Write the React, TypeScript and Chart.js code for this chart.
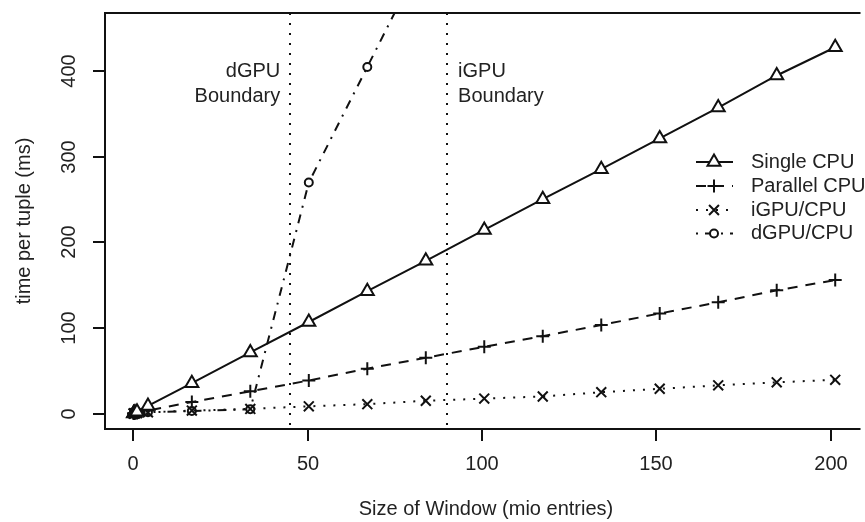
import React, { useEffect, useRef } from 'react';
import { Chart, registerables } from 'chart.js';

Chart.register(...registerables);

// Window sizes (mio entries)
const windowSizes = [0.0625, 0.125, 0.25, 0.5, 1.05, 4.19, 16.78, 33.55, 50.33, 67.11, 83.89, 100.66, 117.44, 134.22, 150.99, 167.77, 184.55, 201.33];

// time per tuple (ms)
const singleCpu = [0.2, 0.3, 0.6, 1.1, 2.2, 9, 35.5, 71.5, 107, 143, 178.5, 214.5, 250.5, 285.5, 321.5, 357.5, 395, 428];
const parallelCpu = [0.1, 0.1, 0.2, 0.4, 0.8, 3.5, 13.5, 26, 38.7, 52.5, 65.3, 78, 90.5, 103.5, 117, 130, 144, 156];
const igpuCpu = [0.1, 0.1, 0.2, 0.3, 0.5, 1.5, 3.5, 5.5, 8.5, 11, 15, 17.5, 20, 25, 29, 33, 36.5, 39.5];
const dgpuCpu = [0.1, 0.1, 0.2, 0.3, 0.5, 1.5, 3, 5, 270, 405, 540];

const seriesNames = ['Single CPU', 'Parallel CPU', 'iGPU/CPU', 'dGPU/CPU'];

const xTicks = [0, 50, 100, 150, 200];
const yTicks = [0, 100, 200, 300, 400];

const boundaryValues = [45, 90];
const boundaryLabels = [['dGPU', 'Boundary'], ['iGPU', 'Boundary']];

const FONT = '"Liberation Sans", Arial, Helvetica, sans-serif';
const TEXT = '#222';
const INK = '#111';

const dashes: number[][] = [[], [10, 8], [2, 8], [2, 7, 9, 7]];
const markers = ['triangle', 'cross', 'crossRot', 'circle'];
const radii = [7.5, 6.5, 7, 4];

function drawMarker(ctx: CanvasRenderingContext2D, style: string, x: number, y: number, r: number) {
  ctx.save();
  ctx.setLineDash([]);
  ctx.lineWidth = 2;
  ctx.strokeStyle = INK;
  ctx.fillStyle = '#fff';
  ctx.beginPath();
  if (style === 'triangle') {
    const s = Math.sin((2 * Math.PI) / 3) * r;
    ctx.moveTo(x, y - r);
    ctx.lineTo(x + s, y + r / 2);
    ctx.lineTo(x - s, y + r / 2);
    ctx.closePath();
    ctx.fill();
    ctx.stroke();
  } else if (style === 'cross') {
    ctx.moveTo(x - r, y);
    ctx.lineTo(x + r, y);
    ctx.moveTo(x, y - r);
    ctx.lineTo(x, y + r);
    ctx.stroke();
  } else if (style === 'crossRot') {
    const d = r * Math.SQRT1_2;
    ctx.moveTo(x - d, y - d);
    ctx.lineTo(x + d, y + d);
    ctx.moveTo(x - d, y + d);
    ctx.lineTo(x + d, y - d);
    ctx.stroke();
  } else {
    ctx.arc(x, y, r, 0, Math.PI * 2);
    ctx.fill();
    ctx.stroke();
  }
  ctx.restore();
}

const rPlot = {
  id: 'rPlot',
  beforeDatasetsDraw(chart: any) {
    const { ctx, chartArea: a, scales } = chart;
    const x = scales.x;
    const y = scales.y;
    ctx.save();
    // boundary lines
    ctx.strokeStyle = INK;
    ctx.lineWidth = 2;
    ctx.setLineDash([2, 8]);
    boundaryValues.forEach((b) => {
      const px = Math.round(x.getPixelForValue(b));
      ctx.beginPath();
      ctx.moveTo(px, a.top);
      ctx.lineTo(px, a.bottom);
      ctx.stroke();
    });
    ctx.setLineDash([]);
    ctx.fillStyle = TEXT;
    ctx.font = `20px ${FONT}`;
    ctx.textBaseline = 'middle';
    boundaryLabels.forEach((lines, i) => {
      const px = x.getPixelForValue(boundaryValues[i]);
      const left = i === 0;
      ctx.textAlign = left ? 'right' : 'left';
      const tx = left ? px - 10 : px + 11;
      lines.forEach((t, j) => {
        ctx.fillText(t, tx, y.getPixelForValue(400) + j * 25);
      });
    });
    ctx.restore();
  },
  afterDraw(chart: any) {
    const { ctx, chartArea: a, scales } = chart;
    const x = scales.x;
    const y = scales.y;
    ctx.save();
    ctx.strokeStyle = INK;
    ctx.lineWidth = 2;
    ctx.setLineDash([]);
    // box
    ctx.beginPath();
    ctx.moveTo(a.right + 5, a.top);
    ctx.lineTo(a.left, a.top);
    ctx.lineTo(a.left, a.bottom);
    ctx.lineTo(a.right + 5, a.bottom);
    ctx.stroke();
    // ticks
    ctx.fillStyle = TEXT;
    ctx.font = `20px ${FONT}`;
    ctx.textAlign = 'center';
    ctx.textBaseline = 'middle';
    xTicks.forEach((t) => {
      const px = Math.round(x.getPixelForValue(t));
      ctx.beginPath();
      ctx.moveTo(px, a.bottom);
      ctx.lineTo(px, a.bottom + 12);
      ctx.stroke();
      ctx.fillText(String(t), px, a.bottom + 35);
    });
    yTicks.forEach((t) => {
      const py = Math.round(y.getPixelForValue(t));
      ctx.beginPath();
      ctx.moveTo(a.left, py);
      ctx.lineTo(a.left - 12, py);
      ctx.stroke();
      ctx.save();
      ctx.translate(a.left - 36, py);
      ctx.rotate(-Math.PI / 2);
      ctx.fillText(String(t), 0, 0);
      ctx.restore();
    });
    // titles
    ctx.fillText('Size of Window (mio entries)', (x.getPixelForValue(0) + x.getPixelForValue(200)) / 2 + 4, 509);
    ctx.save();
    ctx.translate(24, (a.top + a.bottom) / 2);
    ctx.rotate(-Math.PI / 2);
    ctx.fillText('time per tuple (ms)', 0, 0);
    ctx.restore();
    // legend
    const rowY = [162, 186, 210, 233.5];
    seriesNames.forEach((name, i) => {
      const ly = rowY[i];
      ctx.save();
      ctx.lineWidth = 2;
      ctx.setLineDash(dashes[i]);
      ctx.beginPath();
      ctx.moveTo(696, ly);
      ctx.lineTo(733, ly);
      ctx.stroke();
      ctx.restore();
      drawMarker(ctx, markers[i], 714, ly, radii[i]);
      ctx.textAlign = 'left';
      ctx.fillText(name, 751, ly);
    });
    ctx.restore();
  },
};

export default function App() {
  const ref = useRef<HTMLCanvasElement | null>(null);
  useEffect(() => {
    if (!ref.current) return;
    const seriesValues = [singleCpu, parallelCpu, igpuCpu, dgpuCpu];
    const datasets = seriesValues.map((vals, i) => ({
      label: seriesNames[i],
      data: vals.map((v, k) => ({ x: windowSizes[k], y: v })),
      showLine: true,
      borderColor: INK,
      borderWidth: 2,
      borderDash: dashes[i],
      tension: 0,
      pointStyle: markers[i],
      pointRadius: radii[i],
      pointHoverRadius: radii[i],
      pointBorderWidth: 2,
      pointBorderColor: INK,
      pointBackgroundColor: '#fff',
    }));
    const chart = new Chart(ref.current, {
      type: 'scatter',
      data: { datasets },
      options: {
        animation: false,
        responsive: false,
        devicePixelRatio: 1,
        events: [],
        layout: { padding: { left: 105, top: 13, right: 0, bottom: 93 } },
        scales: {
          x: { type: 'linear', min: -8.13, max: 207.15, display: false },
          y: { type: 'linear', min: -18, max: 468, display: false },
        },
        plugins: { legend: { display: false }, tooltip: { enabled: false } },
      },
      plugins: [rPlot],
    } as any);
    return () => chart.destroy();
  }, []);
  return (
    <div style={{ position: 'absolute', left: 0, top: 0, width: 865, height: 522, background: '#fff' }}>
      <canvas ref={ref} width={865} height={522} />
    </div>
  );
}
